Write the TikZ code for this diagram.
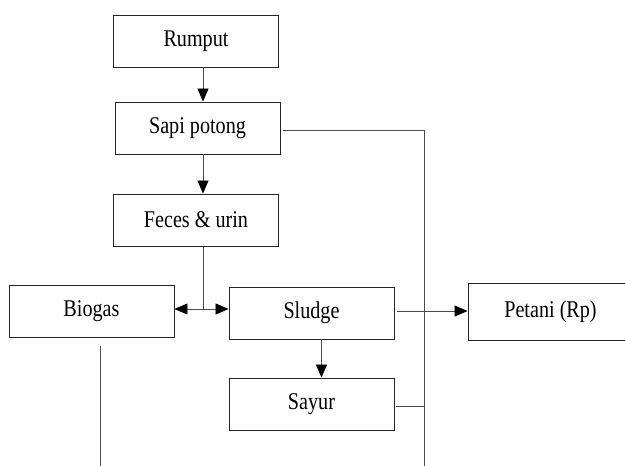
\documentclass[tikz,border=0pt]{standalone}
\usepackage{fontspec}
\setmainfont{Liberation Serif}[FakeStretch=0.84]
\usepackage{tikz}
\usetikzlibrary{positioning,arrows.meta}
\tikzset{
    flowbox/.style={
        rectangle, draw=black!85, fill=white,
        minimum width=165pt, minimum height=52pt,
        font=\fontsize{24}{28}\selectfont,
        line width=0.9pt
    },
    link/.style={
        draw=black!70, line width=0.8pt
    },
    flowarrow/.style={
        link, -{Triangle[length=13pt,width=11pt,color=black]}
    },
    twoarrow/.style={
        link, {Triangle[length=13pt,width=11pt,color=black]}-{Triangle[length=13pt,width=11pt,color=black]}
    }
}

\begin{document}
\begin{tikzpicture}[x=1pt, y=-1pt]
    \useasboundingbox (0,0) rectangle (625,466);
    % Nodes
    \node[flowbox] (rumput) at (196,41)  {Rumput};
    \node[flowbox] (sapi)   at (197.5,128) {Sapi potong};
    \node[flowbox] (feces)  at (196,220) {Feces \& urin};
    \node[flowbox] (biogas) at (91.5,311) {Biogas};
    \node[flowbox] (sludge) at (311.5,313) {Sludge};
    \node[flowbox, minimum height=57pt] (petani) at (550.5,312) {Petani (Rp)};
    \node[flowbox] (sayur)  at (311.5,404) {Sayur};
    % Helper points
    \coordinate (split)   at (203,309);
    \coordinate (busend)  at (424,466);
    \coordinate (gasend)  at (100,466);
    \coordinate (sludgeout) at ([xshift=3pt,yshift=2pt]sludge.east);
    \coordinate (sayurout)  at ([xshift=2pt,yshift=-2pt]sayur.east);
    % Main chain
    \draw[flowarrow] ([xshift=7pt]rumput.south) -- ([xshift=5.5pt]sapi.north);
    \draw[flowarrow] ([xshift=5.5pt]sapi.south) -- ([xshift=7pt]feces.north);
    \draw[link] ([xshift=7pt,yshift=-1pt]feces.south) -- (split);
    \draw[twoarrow] (biogas.east |- split) -- (sludge.west |- split);
    \draw[flowarrow] ([xshift=10pt]sludge.south) -- ([xshift=10pt]sayur.north);
    % Side lines
    \draw[link] ([xshift=3pt,yshift=-2pt]sapi.east) -| (busend);
    \draw[flowarrow] (sludgeout) -- (petani.west |- sludgeout);
    \draw[link] (sayurout) -- (sayurout -| busend);
    \draw[link] ([xshift=8.5pt,yshift=-9pt]biogas.south) -- (gasend);
\end{tikzpicture}
\end{document}
